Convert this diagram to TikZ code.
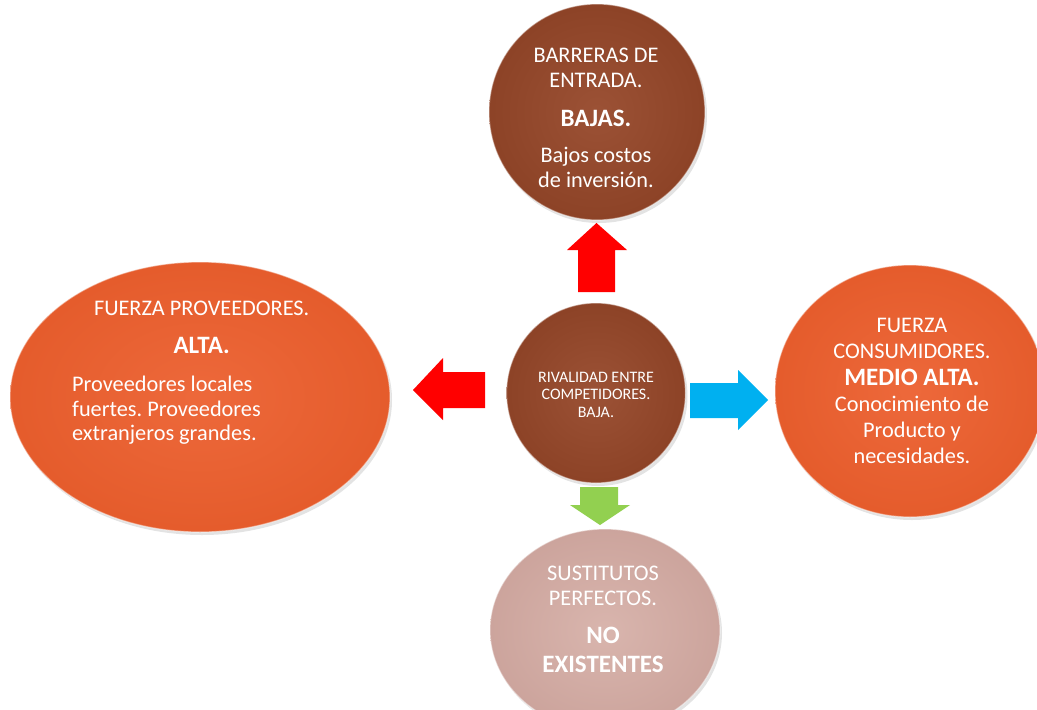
\documentclass[tikz,border=0pt]{standalone}
\usepackage{fontspec}
\setmainfont{Carlito}
\frenchspacing
\usetikzlibrary{shapes.geometric,shadows}
\definecolor{arrred}{HTML}{FF0000}
\definecolor{arrblue}{HTML}{00B0F0}
\definecolor{arrgreen}{HTML}{92D050}
\pgfdeclareradialshading{brownshade}{\pgfpoint{0bp}{0bp}}{%
  rgb(0bp)=(0.61,0.32,0.21); rgb(30bp)=(0.54,0.25,0.14); rgb(50bp)=(0.47,0.20,0.10); rgb(100bp)=(0.47,0.20,0.10)}
\pgfdeclareradialshading{orangeshade}{\pgfpoint{0bp}{0bp}}{%
  rgb(0bp)=(0.93,0.41,0.23); rgb(30bp)=(0.89,0.35,0.16); rgb(50bp)=(0.84,0.30,0.11); rgb(100bp)=(0.84,0.30,0.11)}
\pgfdeclareradialshading{pinkshade}{\pgfpoint{0bp}{0bp}}{%
  rgb(0bp)=(0.85,0.71,0.68); rgb(30bp)=(0.79,0.63,0.60); rgb(50bp)=(0.72,0.54,0.51); rgb(100bp)=(0.72,0.54,0.51)}
\begin{document}
\begin{tikzpicture}[x=1pt,y=-1pt,
  blob/.style={ellipse, inner sep=0pt, draw=white, draw opacity=0.45, line width=1.2pt,
    drop shadow={opacity=0.22, shadow xshift=2pt, shadow yshift=-3pt}},
  brownblob/.style={blob, shading=brownshade},
  orangeblob/.style={blob, shading=orangeshade},
  pinkblob/.style={blob, shading=pinkshade},
  reg/.style={text=white, font=\fontsize{22.3}{25}\selectfont, anchor=base, inner sep=0pt},
  regl/.style={reg, anchor=base west},
  bld/.style={text=white, font=\fontsize{25}{28}\selectfont\bfseries, anchor=base, inner sep=0pt},
  small/.style={text=white, font=\fontsize{16}{18}\selectfont, anchor=base, inner sep=0pt}
]
\useasboundingbox (0,0) rectangle (1037,710);
\fill[white] (0,0) rectangle (1037,710);

% shapes
\node[brownblob, minimum width=216pt, minimum height=216pt] (top) at (597,112) {};
\node[orangeblob, minimum width=380pt, minimum height=270pt] (left) at (200,397) {};
\node[orangeblob, minimum width=270pt, minimum height=252pt] (right) at (910,391) {};
\node[pinkblob, minimum width=230pt, minimum height=202pt] (bottom) at (605,630) {};
\node[brownblob, minimum width=179pt, minimum height=180pt] (center) at (596,393) {};

% block arrows
\fill[arrred] (578,292) -- (578,250) -- (567,250) -- (596.5,223) -- (627,250) -- (615,250) -- (615,292) -- cycle;
\fill[arrred] (485,372) -- (443,372) -- (443,358) -- (413,390) -- (443,420) -- (443,408) -- (485,408) -- cycle;
\fill[arrblue] (690,383) -- (738,383) -- (738,370) -- (768,400) -- (738,430) -- (738,418) -- (690,418) -- cycle;
\fill[arrgreen] (580,487) -- (618,487) -- (618,505) -- (630,505) -- (600,525) -- (570,505) -- (580,505) -- cycle;

% top texts
\node[reg] (t1) at (596,62) {BARRERAS DE};
\node[reg] (t2) at (596,87) {ENTRADA.};
\node[bld] (t3) at (596,126) {BAJAS.};
\node[reg] (t4) at (596,162) {Bajos costos};
\node[reg] (t5) at (596,187) {de inversión.};

% center texts
\node[small] (c1) at (596,382) {RIVALIDAD ENTRE};
\node[small] (c2) at (596,399.5) {COMPETIDORES.};
\node[small] (c3) at (596,417) {BAJA.};

% left texts
\node[reg] (l1) at (201.7,315) {FUERZA PROVEEDORES.};
\node[bld] (l2) at (201.7,353) {ALTA.};
\node[regl] (l3) at (72,391.5) {Proveedores locales};
\node[regl] (l4) at (72,416) {fuertes. Proveedores};
\node[regl] (l5) at (72,440.5) {extranjeros grandes.};

% right texts
\node[reg] (r1) at (912,332) {FUERZA};
\node[reg] (r2) at (912,358) {CONSUMIDORES.};
\node[bld] (r3) at (912,385) {MEDIO ALTA.};
\node[reg] (r4) at (912,411.5) {Conocimiento de};
\node[reg] (r5) at (912,437) {Producto y};
\node[reg] (r6) at (912,463) {necesidades.};

% bottom texts
\node[reg] (b1) at (603,580) {SUSTITUTOS};
\node[reg] (b2) at (603,605) {PERFECTOS.};
\node[bld] (b3) at (603,643) {NO};
\node[bld] (b4) at (603,672) {EXISTENTES};
\end{tikzpicture}
\end{document}
